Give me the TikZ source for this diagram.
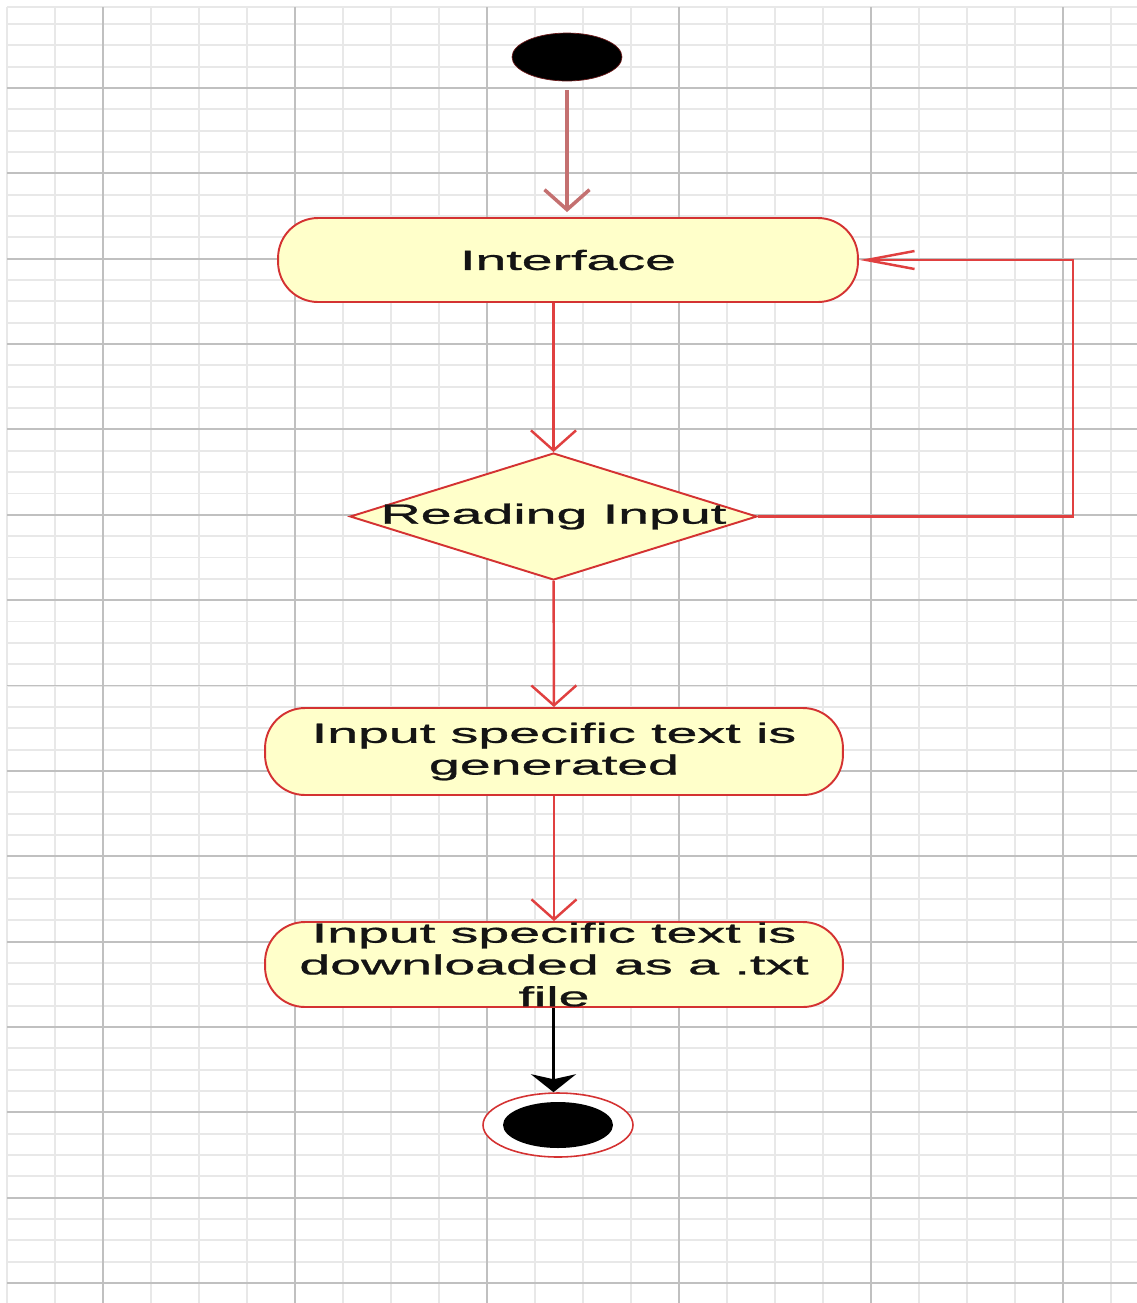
\documentclass[tikz,border=0pt]{standalone}
\usepackage{fontspec}
\newfontfamily\umlfont[FakeBold=0.8]{Liberation Sans}
\usetikzlibrary{positioning, arrows.meta, shapes.geometric, shapes.misc}
\definecolor{umlred}{RGB}{212,50,50}
\definecolor{flowred}{RGB}{224,64,64}
\definecolor{startflow}{RGB}{196,112,112}
\definecolor{umlfill}{RGB}{255,255,202}
\definecolor{majorgrid}{RGB}{192,192,192}
\definecolor{minorgrid}{RGB}{232,232,232}

\begin{document}
\begin{tikzpicture}[x=0.02cm, y=-0.02cm,
	txt/.style={font=\umlfont\fontsize{15.8}{18.1}\selectfont, text=black!92, xscale=2},
	act/.style={txt, rectangle, rounded corners=0.8cm, draw=umlred, line width=1.1pt, fill=umlfill, minimum width=5.8cm, minimum height=1.7cm, align=center, inner sep=0pt},
	decision/.style={diamond, draw=umlred, line width=1.1pt, fill=umlfill, minimum width=8.14cm, minimum height=2.54cm, inner sep=0pt},
	initial/.style={ellipse, draw=umlred!50!black, fill=black, minimum width=2.2cm, minimum height=0.96cm, inner sep=0pt},
	final/.style={ellipse, draw=umlred, line width=0.9pt, fill=white, minimum width=3cm, minimum height=1.28cm, inner sep=0pt,
		path picture={\fill[black] (path picture bounding box.center) ellipse [x radius=1.1cm, y radius=0.46cm];}},
	flow/.style={draw=flowred, line width=1.4pt, -{Straight Barb[length=0.4cm, width=0.9cm]}}]
	\useasboundingbox (0,0) rectangle (1137,1303);
	\fill[white] (0,0) rectangle (1137,1303);
	\foreach \gx in {7,55,...,1135} \draw[minorgrid, line width=1.1pt] (\gx,7) -- (\gx,1303);
	\foreach \k in {0,...,59} \draw[minorgrid, line width=1.1pt] (7,{24+21.34*\k}) -- (1137,{24+21.34*\k});
	\draw[minorgrid, line width=1.1pt] (7,7) -- (1137,7);
	\foreach \gx in {103,295,...,1063} \draw[majorgrid, line width=1.6pt] (\gx,7) -- (\gx,1303);
	\foreach \k in {0,...,14} \draw[majorgrid, line width=1.1pt] (7,{88+85.36*\k}) -- (1137,{88+85.36*\k});

	\node[initial] (start) at (567,57) {};
	\node[act, minimum height=1.68cm] (iface) at (568,260) {Interface};
	\node[decision, label={[txt, inner sep=0pt]center:Reading Input}] (read) at (553.5,516.5) {};
	\node[act, minimum width=5.78cm, minimum height=1.74cm] (gen) at (554,751.5) {Input specific text is\\generated};
	\node[act, minimum width=5.78cm] (down) at (554,964.5) {Input specific text is\\downloaded as a .txt\\file};
	\node[final] (finish) at (558,1125) {};

	\draw[flow, draw=startflow, line width=2pt, shorten <=0.18cm, shorten >=0.1cm] (start) -- (start |- iface.north);
	\draw[flow] (read.north |- iface.south) -- (read.north);
	\draw[flow] (read) -- (gen);
	\draw[flow] (gen) -- (down);
	\draw[flow, -{Straight Barb[length=0.96cm, width=0.36cm]}] (read.east) -- ++(315,0) |- (iface.east);
	\draw[black, line width=1.6pt, -{Stealth[length=0.36cm, width=0.9cm, inset=0.1cm]}] (down.south -| read.south) -- (finish.north -| read.south);
\end{tikzpicture}
\end{document}
